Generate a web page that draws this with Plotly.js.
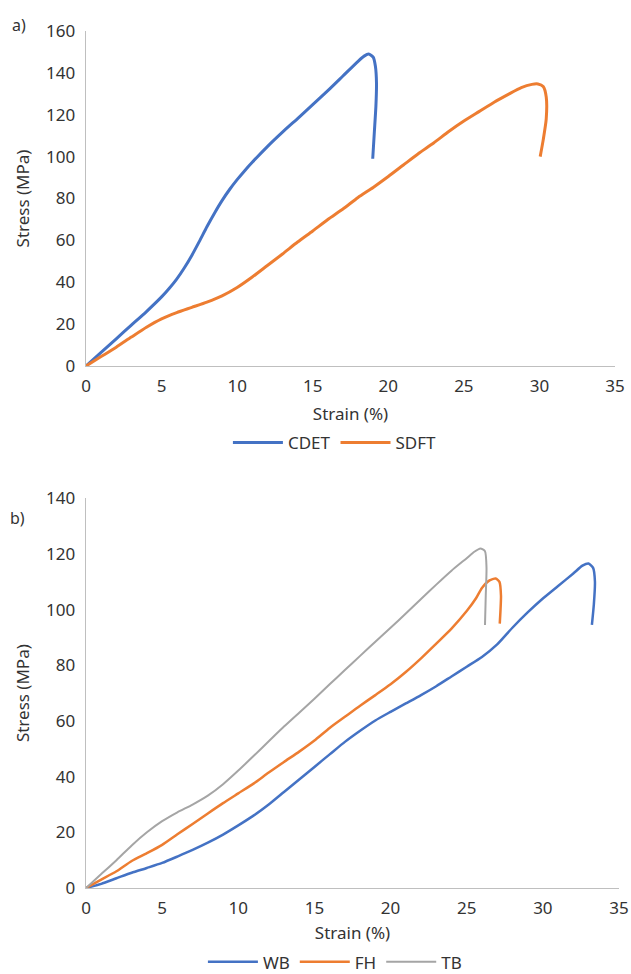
<!DOCTYPE html>
<html>
<head>
<meta charset="utf-8">
<script src="https://cdn.plot.ly/plotly-3.0.1.min.js"></script>
<style>
  html, body { margin: 0; padding: 0; background: #fff; }
  #chart { width: 631px; height: 974px; }
</style>
</head>
<body>
<div id="chart"></div>
<script>
// ---- Panel a) ----
const cdetStrain = [0, 1, 2, 3, 4, 5, 5.5, 6, 6.5, 7, 7.5, 8, 8.5, 9, 9.5, 10, 10.5, 11, 12, 13, 14, 15, 16, 17, 18, 18.4, 18.7, 19.0, 19.15, 19.22, 19.18, 19.08, 18.97];
const cdetStress = [0, 6.5, 13, 19.5, 26, 33, 37, 41.5, 46.8, 52.8, 59.5, 66.5, 73, 79, 84.3, 89, 93.3, 97.3, 104.8, 111.7, 118.2, 124.8, 131.5, 138.5, 145.5, 148, 149, 147.5, 143, 135, 124, 112, 99];
const sdftStrain = [0, 1, 2, 3, 4, 5, 6, 7, 8, 9, 10, 11, 12, 13, 14, 15, 16, 17, 18, 19, 20, 21, 22, 23, 24, 25, 26, 27, 28, 28.8, 29.5, 29.9, 30.25, 30.45, 30.45, 30.25, 30.05];
const sdftStress = [0, 4.5, 9, 13.8, 18.5, 22.5, 25.5, 28, 30.5, 33.5, 37.5, 42.5, 48, 53.5, 59.2, 64.5, 70, 75, 80.5, 85.3, 90.5, 96, 101.5, 106.5, 112, 117, 121.5, 126, 130, 133, 134.5, 134.7, 133.5, 128.5, 118, 108, 100];

// ---- Panel b) ----
const wbStrain = [0, 1, 2, 3, 4, 5, 6, 7, 8, 9, 10, 11, 12, 13, 14, 15, 16, 17, 18, 19, 20, 21, 22, 23, 24, 25, 26, 27, 28, 29, 30, 31, 32, 32.6, 33.0, 33.3, 33.42, 33.35, 33.22];
const wbStress = [0, 1.5, 3.5, 5.5, 7.2, 9, 11.3, 13.7, 16.3, 19.2, 22.5, 26, 30, 34.5, 39, 43.5, 48, 52.5, 56.5, 60.2, 63.3, 66.3, 69.3, 72.5, 76, 79.5, 83, 87.5, 93.5, 99, 104, 108.5, 113, 115.8, 116.6, 115, 110, 102, 94.5];
const fhStrain = [0, 1, 2, 3, 4, 5, 6, 7, 8, 9, 10, 11, 12, 13, 14, 15, 16, 17, 18, 19, 20, 21, 22, 23, 24, 25, 25.6, 26.0, 26.5, 26.9, 27.15, 27.25, 27.22, 27.17];
const fhStress = [0, 3, 6, 9.7, 12.5, 15.5, 19.3, 23, 26.8, 30.5, 34, 37.5, 41.5, 45.3, 49, 53, 57.5, 61.5, 65.5, 69.3, 73.2, 77.6, 82.5, 87.8, 93.2, 99.5, 104, 107.8, 110.5, 111.2, 110, 105, 100, 95];
const tbStrain = [0, 1, 2, 3, 4, 5, 6, 7, 8, 9, 10, 11, 12, 13, 14, 15, 16, 17, 18, 19, 20, 21, 22, 23, 24, 25, 25.5, 25.9, 26.2, 26.3, 26.25, 26.2];
const tbStress = [0, 5, 10, 15.3, 20, 24, 27.2, 30, 33.2, 37.3, 42.2, 47.4, 52.7, 58, 63, 68, 73.2, 78.3, 83.4, 88.5, 93.5, 98.6, 103.8, 109, 114, 118.5, 120.8, 122, 121, 115, 105, 94.5];

// ---- Ticks / labels ----
const xTicks = [0, 5, 10, 15, 20, 25, 30, 35];
const yTicksA = [0, 20, 40, 60, 80, 100, 120, 140, 160];
const yTicksB = [0, 20, 40, 60, 80, 100, 120, 140];

const BLUE = '#4472C4', ORANGE = '#ED7D31', GREY = '#A5A5A5';
const TXT = '#333333';
const FONT = 'Noto Sans, Open Sans, sans-serif';

const traces = [
  {x: cdetStrain, y: cdetStress, name: 'CDET', type: 'scatter', mode: 'lines',
   line: {color: BLUE, width: 3, shape: 'spline', smoothing: 0.6}, xaxis: 'x', yaxis: 'y', legend: 'legend'},
  {x: sdftStrain, y: sdftStress, name: 'SDFT', type: 'scatter', mode: 'lines',
   line: {color: ORANGE, width: 3, shape: 'spline', smoothing: 0.6}, xaxis: 'x', yaxis: 'y', legend: 'legend'},
  {x: wbStrain, y: wbStress, name: 'WB', type: 'scatter', mode: 'lines',
   line: {color: BLUE, width: 2.5, shape: 'spline', smoothing: 0.6}, xaxis: 'x2', yaxis: 'y2', legend: 'legend2'},
  {x: fhStrain, y: fhStress, name: 'FH', type: 'scatter', mode: 'lines',
   line: {color: ORANGE, width: 2.5, shape: 'spline', smoothing: 0.6}, xaxis: 'x2', yaxis: 'y2', legend: 'legend2'},
  {x: tbStrain, y: tbStress, name: 'TB', type: 'scatter', mode: 'lines',
   line: {color: GREY, width: 2, shape: 'spline', smoothing: 0.6}, xaxis: 'x2', yaxis: 'y2', legend: 'legend2'}
];

const axisCommon = {
  showgrid: false, zeroline: false, showline: true, linecolor: '#BFBFBF', linewidth: 1.3,
  ticks: '', tickfont: {family: FONT, size: 17, color: TXT}, fixedrange: true, automargin: false
};

const layout = {
  width: 631, height: 974,
  margin: {l: 86, r: 12, t: 31, b: 86, autoexpand: false},
  paper_bgcolor: '#ffffff', plot_bgcolor: '#ffffff',
  font: {family: FONT, size: 17, color: TXT},
  showlegend: true,
  xaxis: Object.assign({}, axisCommon, {
    domain: [0, 0.9925], range: [0, 35], tickvals: xTicks, anchor: 'y', ticklabelstandoff: 4,
    title: {text: 'Strain (%)', font: {family: FONT, size: 17, color: TXT}, standoff: 12}
  }),
  yaxis: Object.assign({}, axisCommon, {
    domain: [0.6091, 1], range: [0, 160], tickvals: yTicksA, anchor: 'x', ticklabelstandoff: 6,
    title: {text: 'Stress (MPa)', font: {family: FONT, size: 17, color: TXT}, standoff: 12}
  }),
  xaxis2: Object.assign({}, axisCommon, {
    domain: [0, 1], range: [0, 35], tickvals: xTicks, anchor: 'y2', ticklabelstandoff: 4,
    title: {text: 'Strain (%)', font: {family: FONT, size: 17, color: TXT}, standoff: 12}
  }),
  yaxis2: Object.assign({}, axisCommon, {
    domain: [0, 0.4547], range: [0, 140], tickvals: yTicksB, anchor: 'x2', ticklabelstandoff: 6,
    title: {text: 'Stress (MPa)', font: {family: FONT, size: 17, color: TXT}, standoff: 12}
  }),
  legend: {
    orientation: 'h', x: 0.467, xanchor: 'center', y: 0.5452, yref: 'container', yanchor: 'middle',
    font: {family: FONT, size: 17, color: TXT}, bgcolor: 'rgba(0,0,0,0)', itemwidth: 50, tracegroupgap: 0
  },
  legend2: {
    orientation: 'h', x: 0.467, xanchor: 'center', y: 0.012, yref: 'container', yanchor: 'middle',
    font: {family: FONT, size: 17, color: TXT}, bgcolor: 'rgba(0,0,0,0)', itemwidth: 50, tracegroupgap: 0
  },
  annotations: [
    {text: 'a)', xref: 'paper', yref: 'paper', x: -0.125, y: 1.007, xanchor: 'center', yanchor: 'middle',
     showarrow: false, font: {family: FONT, size: 16, color: TXT}},
    {text: 'b)', xref: 'paper', yref: 'paper', x: -0.128, y: 0.432, xanchor: 'center', yanchor: 'middle',
     showarrow: false, font: {family: FONT, size: 16, color: TXT}}
  ]
};

Plotly.newPlot('chart', traces, layout, {displayModeBar: false, staticPlot: true});
</script>
</body>
</html>
